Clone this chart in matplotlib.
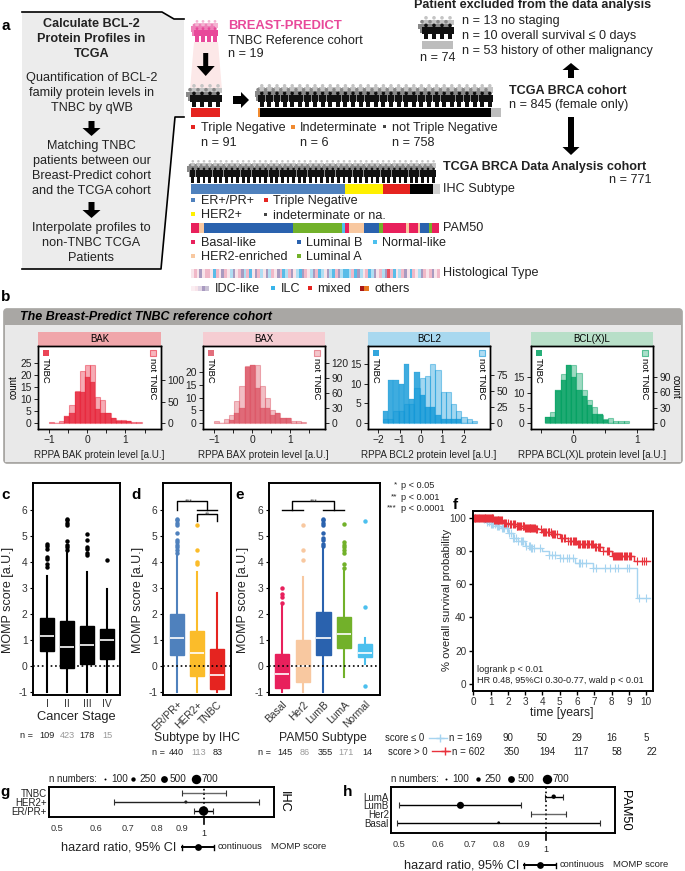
import numpy as np
import matplotlib
matplotlib.use("Agg")
import matplotlib.pyplot as plt
from matplotlib.colors import to_rgba
from matplotlib.patches import Rectangle, Polygon, FancyBboxPatch, Circle

plt.rcParams['font.family'] = ['Liberation Sans', 'DejaVu Sans']

W, H = 685, 871

# ---- data ----
# panel a, stacked bars (read off as bar lengths)
tcga_vals = [7, 803, 35]
tcga_cols = ['#f08a30', '#000000', '#bdbdbd']
ihc_vals = [350, 85, 62, 51, 17]
ihc_cols = ['#4f81bd', '#fff000', '#e52420', '#000000', '#d0d0d0']
pam_vals = [18, 11, 203, 110, 8, 7, 34, 36, 7, 53, 8, 19, 6, 20, 7, 15]
pam_codes = 'bhLAnbhLAbhbhLAb'
pam_map = {'b': '#e8205c', 'h': '#f8c8a0', 'L': '#2a62ae', 'A': '#72b12a', 'n': '#4cc0ee'}
hist_codes = [0, 1, 0, 2, 0, 1, 1, 0, 3, 1, 0, 2, 1, 0, 4, 2, 0, 1, 2, 4, 1, 3, 0, 2, 1, 4, 0, 2, 4, 1,
              0, 2, 1, 3, 4, 1, 2, 0, 4, 3, 2, 1, 0, 4, 2, 1, 3, 4, 0, 2, 4, 3, 1, 2, 4, 3, 3, 4, 1, 3,
              2, 4, 0, 1, 3, 4, 2, 0, 1, 4, 2, 5, 1, 3, 0, 4, 1, 2, 0, 3, 1, 0, 4, 2, 1, 0, 1, 2, 0, 1]
hist_cols = ['#f8e4ea', '#f0b8c8', '#a89ac0', '#58bce8', '#b0def2', '#e85060']

# panel b, histogram counts
bak_tnbc = [0, 0, 0, 3, 4, 13, 13, 19, 17, 6, 4, 4, 2, 1, 1, 1, 0, 0]
bak_not = [2, 0, 4, 14, 43, 74, 121, 137, 137, 60, 53, 23, 12, 8, 6, 4, 2, 2]
bax_tnbc = [0, 0, 0, 1, 4, 6, 22, 23, 14, 6, 6, 3, 4, 2, 2, 0, 0, 0]
bax_not = [3, 0, 7, 15, 43, 73, 113, 116, 116, 73, 50, 26, 20, 10, 10, 3, 4, 2]
bcl2_tnbc = [3, 11, 11, 10, 15, 6, 13, 7, 4, 4, 2, 1, 1, 1, 1, 0, 0, 0]
bcl2_not = [6, 6, 18, 19, 30, 30, 55, 71, 74, 92, 83, 48, 49, 29, 19, 9, 6, 3]
xl_tnbc = [2, 2, 11, 14, 19, 15, 11, 9, 6, 3, 3, 1, 0, 0, 0, 0]
xl_not = [12, 21, 62, 96, 113, 113, 97, 65, 44, 31, 16, 8, 10, 3, 4, 3]

# panels c-e, box stats: q1, median, q3, whisker low, whisker high
stage_names = ['I', 'II', 'III', 'IV']
stage_q1 = [0.57, -0.08, 0.08, 0.27]
stage_med = [1.15, 0.72, 0.80, 0.97]
stage_q3 = [1.83, 1.70, 1.52, 1.42]
stage_lo = [-1, -1, -1, -1]
stage_hi = [3.45, 4.40, 3.60, 2.95]
stage_fl = [[3.8, 3.9, 4.1, 4.2, 4.5, 4.6, 4.7],
            [4.45, 4.55, 4.65, 4.8, 5.4, 5.5, 5.6, 5.65],
            [4.25, 4.35, 4.5, 4.55, 4.85, 5.05],
            [4.05]]
stage_n = ['109', '423', '178', '15']

ihc_names = ['ER/PR+', 'HER2+', 'TNBC']
ihc_q1 = [0.40, -0.38, -0.90]
ihc_med = [1.05, 0.50, -0.35]
ihc_q3 = [1.97, 1.33, 0.63]
ihc_lo = [-1, -1, -1]
ihc_hi = [4.30, 3.60, 2.80]
ihc_fl = [[4.35, 4.45, 4.55, 4.65, 4.75, 4.85, 5.1, 5.4, 5.5, 5.6, 5.65],
          [3.9, 4.0, 4.45, 5.4],
          []]
ihc_colors = ['#4f81bd', '#fbbc2a', '#e52420']
ihc_n = ['440', '113', '83']

pam_names = ['Basal', 'Her2', 'LumB', 'LumA', 'Normal']
pam_q1 = [-0.85, -0.62, 0.40, 0.67, 0.33]
pam_med = [-0.33, -0.02, 1.08, 1.20, 0.50]
pam_q3 = [0.45, 0.98, 2.05, 1.88, 0.83]
pam_lo = [-1, -1, -1, -0.45, 0.05]
pam_hi = [2.30, 3.40, 4.55, 3.70, 1.05]
pam_fl = [[2.4, 2.65, 2.75, 3.0],
          [4.05, 4.45, 5.4],
          [4.6, 4.7, 4.85, 4.9, 5.1, 5.4, 5.5, 5.6, 5.65],
          [3.75, 3.9, 4.35, 4.45, 4.55, 4.65, 4.75, 5.45],
          [-0.8, 2.25, 5.55]]
pam_colors = ['#e8205c', '#f8c8a0', '#2a62ae', '#72b12a', '#4cc0ee']
pam_n = ['145', '86', '355', '171', '14']

# panel f, survival curves
low_t = [0, 0.5, 0.8, 1.0, 1.3, 1.6, 2.0, 2.3, 2.6, 3.0, 3.3, 4.0, 4.4, 5.0, 5.9, 6.9, 9.5, 10.2]
low_s = [100, 99, 97.5, 96, 95, 94, 91, 88, 86, 83, 82, 80, 77.5, 75.5, 73, 69.5, 52, 52]
high_t = [0, 0.7, 1.2, 1.7, 2.0, 2.5, 3.0, 3.6, 4.0, 4.5, 5.0, 5.5, 6.0, 7.0, 7.5, 8.0, 9.3, 10.2]
high_s = [100, 99.5, 98.5, 97, 96, 95, 94, 93, 91.5, 90, 88, 86, 84, 82.5, 80, 77, 74, 74]
low_cens = [0.3, 0.6, 0.75, 0.8, 0.9, 1.0, 1.08, 1.15, 1.25, 1.35, 1.45, 1.5, 1.65, 1.72, 1.8, 1.95, 2.05, 2.15,
            2.3, 2.38, 2.45, 2.6, 2.75, 2.82, 2.9, 3.05, 3.2, 3.28, 3.35, 3.42, 3.5, 3.85, 4.4, 4.55, 4.7, 5.0,
            5.2, 5.4, 5.55, 5.75, 6.1, 6.2, 6.3, 6.5, 6.95, 7.1, 7.6, 7.9, 8.2, 8.4, 8.9, 9.0, 9.6, 10.0]
high_cens = [0.03, 0.08, 0.12, 0.18, 0.22, 0.28, 0.33, 0.38, 0.43, 0.48, 0.55, 0.6, 0.65, 0.7, 0.75, 0.8, 0.85, 0.9,
             0.95, 1.0, 1.05, 1.1, 1.15, 1.2, 1.25, 1.3, 1.35, 1.4, 1.45, 1.5, 1.55, 1.6, 1.68, 1.75, 1.82, 1.9, 1.98,
             2.1, 2.2, 2.28, 2.35, 2.42, 2.5, 2.55, 2.6, 2.65, 2.7, 2.78, 2.85, 2.9, 2.95, 3.0, 3.05, 3.1, 3.15, 3.2,
             3.25, 3.3, 3.35, 3.4, 3.45, 3.5, 3.55, 3.62, 3.7, 3.9, 4.05, 4.1, 4.15, 4.22, 4.3, 4.35, 4.4, 4.48, 4.55,
             4.6, 4.65, 4.75, 4.85, 5.05, 5.15, 5.22, 5.3, 5.5, 5.6, 5.68, 5.75, 5.82, 5.9, 5.97, 6.05, 6.12, 6.2,
             6.3, 6.35, 6.4, 6.48, 6.55, 6.6, 6.65, 6.72, 6.8, 6.88, 6.95, 7.05, 7.12, 7.2, 7.3, 7.35, 7.5, 7.75,
             7.82, 7.85, 8.1, 8.15, 8.2, 8.25, 8.3, 8.38, 8.45, 8.5, 8.55, 8.62, 8.7, 8.78, 8.85, 8.92, 9.0, 9.05,
             9.1, 9.5, 9.75, 9.9, 10.0]
risk_low = ['n = 169', '90', '50', '29', '16', '5']
risk_high = ['n = 602', '350', '194', '117', '58', '22']

# panels g, h, hazard ratios
g_names = ['TNBC', 'HER2+', 'ER/PR+']
g_hr = [1.0, 0.918, 0.998]
g_lo = [0.90, 0.653, 0.953]
g_hi = [1.11, 1.296, 1.044]
g_size = [1, 5, 46]
g_col = ['#666666', '#222222', '#000000']
h_names = ['LumA', 'LumB', 'Her2', 'Basal']
h_hr = [1.037, 0.668, 1.0, 0.80]
h_lo = [0.995, 0.50, 0.93, 0.495]
h_hi = [1.086, 0.89, 1.097, 1.29]
h_size = [10, 26, 1, 4]
h_col = ['#000000', '#000000', '#666666', '#000000']
n_key = ['100', '250', '500', '700']
n_key_size = [2, 10, 24, 46]

fig = plt.figure(figsize=(W / 100, H / 100), dpi=100)

# full-figure canvas in pixel coordinates for the schematic parts
cv = fig.add_axes([0, 0, 1, 1], zorder=-1)
cv.set_xlim(0, W)
cv.set_ylim(H, 0)
cv.axis('off')


def box(x0, y0, x1, y1):
    return fig.add_axes([x0 / W, 1 - y1 / H, (x1 - x0) / W, (y1 - y0) / H])


def txt(x, y, s, size=9.1, **kw):
    kw.setdefault('va', 'center')
    kw.setdefault('color', '#222222')
    return cv.text(x, y, s, fontsize=size, **kw)


def square(x, y, col, s=3.5):
    cv.add_patch(Rectangle((x - s / 2, y - s / 2), s, s, fc=col, ec='none'))


def arrow(x, y0, y1, w=3.5, hw=9, hl=9):
    # vertical block arrow from y0 to y1
    d = 1 if y1 > y0 else -1
    cv.add_patch(Polygon([(x - w, y0), (x + w, y0), (x + w, y1 - d * hl), (x + hw, y1 - d * hl), (x, y1),
                          (x - hw, y1 - d * hl), (x - w, y1 - d * hl)], fc='k', ec='none'))


def stacked(x0, x1, y0, y1, values, colors):
    scale = (x1 - x0) / sum(values)
    left = x0
    for v, c in zip(values, colors):
        cv.add_patch(Rectangle((left, y0), v * scale, y1 - y0, fc=c, ec='none'))
        left += v * scale


def people(x0, x1, y0, y1, step, front='#111111', mid='#888888', back='#c4c4c4'):
    h = y1 - y0
    for row, col, off, top, bot in [(0, back, 0.5, y0, y0 + 0.55 * h),
                                    (1, mid, 0.0, y0 + 0.17 * h, y0 + 0.75 * h),
                                    (2, front, 0.5, y0 + 0.33 * h, y1)]:
        n = int((x1 - x0) / step)
        for i in range(n):
            cx = x0 + (i + off) * step
            r = min(step * 0.23, 1.8)
            hh = bot - top
            cv.add_patch(Circle((cx, top + r), r, fc=col, ec='none'))
            cv.add_patch(Rectangle((cx - step * 0.46, top + 2 * r), step * 0.92, hh * 0.42, fc=col, ec='none'))
            cv.add_patch(Rectangle((cx - step * 0.26, top + 2 * r), step * 0.52, hh - 2 * r, fc=col, ec='none'))


# ---- panel a ----
cv.add_patch(Polygon([(22, 12), (162, 12), (174, 19), (184, 19), (184, 117), (175, 117), (161, 269), (22, 269)],
                     fc='#ececec', ec='none'))
cv.plot([22, 162, 174, 184], [12, 12, 19, 19], color='k', lw=1.2)
cv.plot([184, 175, 161, 22], [117, 117, 269, 269], color='k', lw=1.2)

for y, s in zip([23.7, 39, 54], ['Calculate BCL-2', 'Protein Profiles in', 'TCGA']):
    txt(91.5, y, s, ha='center', weight='bold')
for y, s in zip([77.5, 92.7, 108], ['Quantification of BCL-2', 'family protein levels in', 'TNBC by qWB']):
    txt(91.5, y, s, ha='center')
arrow(91.5, 121, 136, w=3, hw=9, hl=8)
for y, s in zip([146, 161, 176, 191], ['Matching TNBC', 'patients between our', 'Breast-Predict cohort', 'and the TCGA cohort']):
    txt(91.5, y, s, ha='center')
arrow(91.5, 202, 218, w=3, hw=9, hl=8)
for y, s in zip([228, 243, 258], ['Interpolate profiles to', 'non-TNBC TCGA', 'Patients']):
    txt(91.5, y, s, ha='center')

cv.add_patch(Polygon([(194, 42), (218, 42), (222, 90), (190, 90)], fc='#fce8e8', ec='none'))
people(194, 218, 20, 42, 6, front='#e8499a', mid='#ee82b8', back='#f4b4d2')
txt(228, 25.7, 'BREAST-PREDICT', size=9.4, color='#e8499a', weight='bold')
txt(228, 41, 'TNBC Reference cohort')
txt(228, 54, 'n = 19')
arrow(205.7, 53, 76, w=2.5, hw=9, hl=10)

people(190, 222, 84, 107, 8)
stacked(191, 220, 108, 117, [91], ['#e52420'])
cv.add_patch(Polygon([(233, 96), (241, 96), (241, 92), (249, 100), (241, 108), (241, 104), (233, 104)], fc='k', ec='none'))
people(258, 501, 84, 107, 7.6)
stacked(258, 501, 108, 117, tcga_vals, tcga_cols)
txt(509, 90.7, 'TCGA BRCA cohort', weight='bold')
txt(509, 105, 'n = 845 (female only)')

square(193, 127, '#e52420', 4)
txt(201, 128, 'Triple Negative')
txt(201, 143, 'n = 91')
square(293, 127, '#f08a30', 4)
txt(300, 128, 'Indeterminate')
txt(300, 143, 'n = 6')
square(385, 127, '#444444', 3)
txt(392, 128, 'not Triple Negative')
txt(392, 143, 'n = 758')

txt(414, 5, 'Patient excluded from the data analysis', weight='bold')
people(422, 454, 16, 39, 8)
stacked(422, 453, 41, 49, [74], ['#bdbdbd'])
txt(420, 58, 'n = 74')
txt(462, 21, 'n = 13 no staging')
txt(462, 36, 'n = 10 overall survival ≤ 0 days')
txt(462, 51, 'n = 53 history of other malignancy')
arrow(571, 78, 63, w=3, hw=8.5, hl=7)
arrow(571, 117, 155, w=3, hw=8.5, hl=8)

people(190, 440, 160, 183, 5.6)
txt(443, 167, 'TCGA BRCA Data Analysis cohort', weight='bold')
txt(652, 180, 'n = 771', ha='right')
stacked(191, 440, 184, 194, ihc_vals, ihc_cols)
txt(443, 189, 'IHC Subtype')
square(193, 200, '#4f81bd', 4)
txt(201, 201, 'ER+/PR+')
square(266, 200, '#e52420', 4)
txt(273, 201, 'Triple Negative')
square(193, 214, '#fff000', 4)
txt(201, 215, 'HER2+')
square(266, 214, '#444444', 3)
txt(273, 216, 'indeterminate or na.')

stacked(191, 439, 223, 233, pam_vals, [pam_map[c] for c in pam_codes])
txt(443, 228, 'PAM50')
square(193, 242, pam_map['b'], 4)
txt(201, 243, 'Basal-like')
square(299, 242, pam_map['L'], 4)
txt(306, 243, 'Luminal B')
square(375, 242, pam_map['n'], 4)
txt(382, 243, 'Normal-like')
square(193, 256, pam_map['h'], 4)
txt(201, 257, 'HER2-enriched')
square(299, 256, pam_map['A'], 4)
txt(306, 257, 'Luminal A')

stacked(191, 440, 269, 278, [1] * len(hist_codes), [hist_cols[c] for c in hist_codes])
txt(443, 273, 'Histological Type')
stacked(191, 209, 286, 291, [1, 1, 1, 1, 1], ['#fbeef2', '#f8e4ea', '#e0d4e4', '#a89ac0', '#c8c0d4'])
txt(214.5, 289, 'IDC-like')
square(273, 288, '#38b4ea', 4)
txt(281, 289, 'ILC')
square(310, 288, '#e52420', 4)
txt(317, 289, 'mixed')
stacked(360, 369, 286, 291, [1, 1], ['#a81818', '#e87820'])
txt(375, 289, 'others')

for x, y, s in [(1, 26, 'a'), (1, 297, 'b'), (1, 495, 'c'), (131, 495, 'd'), (235, 495, 'e'), (453, 505, 'f'),
                (0, 792, 'g'), (343, 792, 'h')]:
    txt(x, y, s, size=11, weight='bold', color='k')

# ---- panel b ----
cv.add_patch(FancyBboxPatch((5, 310), 676, 152, boxstyle='round,pad=1.5,rounding_size=4', fc='#a9a7a4', ec='#a9a7a4', lw=0.5))
cv.add_patch(Rectangle((5, 324.5), 676, 137, fc='#e9e9e9', ec='none'))
txt(20, 316.5, 'The Breast-Predict TNBC reference cohort', size=9, weight='bold', style='italic', color='k')


def hist_panel(x0, x1, strip, name, start, width, tn, nt, xlim, sl, sr, lt, rt, xt, xtl, base, col):
    y0, y1 = 345.7, 429
    cv.add_patch(Rectangle((x0, 332), x1 - x0, y0 - 332, fc=strip, ec='none'))
    txt((x0 + x1) / 2, 339, name, size=6.9, color='k', ha='center')
    ax = box(x0, y0, x1, y1)
    edges = start + width * np.arange(len(tn))
    ax.bar(edges, tn, width=width, align='edge', fc=to_rgba(col, 0.8), ec=to_rgba(col, 0.5), lw=0.3)
    ax.set_xlim(*xlim)
    ax.set_ylim(-(y1 - base) / sl, (base - y0) / sl)
    ax.set_yticks(lt)
    ax.set_xticks(xt)
    ax.set_xticklabels(xtl)
    ax2 = ax.twinx()
    ax2.bar(edges, nt, width=width, align='edge', fc=to_rgba(col, 0.38), ec=to_rgba(col, 0.45), lw=0.8)
    ax2.set_ylim(-(y1 - base) / sr, (base - y0) / sr)
    ax2.set_yticks(rt)
    for a in (ax, ax2):
        a.tick_params(labelsize=7.4, length=3, width=0.7, pad=1.5, colors='#222222')
        for sp in a.spines.values():
            sp.set_linewidth(1)
    w = x1 - x0
    h = y1 - y0
    ax2.scatter([7.7 / w], [1 - 7 / h], transform=ax2.transAxes, marker='s', s=16, color=col, alpha=0.85, lw=0)
    ax2.scatter([1 - 8 / w], [1 - 7 / h], transform=ax2.transAxes, marker='s', s=13, fc=col + '55', ec=col + '99', lw=0.8)
    ax2.text(7.7 / w, 1 - 12 / h, 'TNBC', transform=ax2.transAxes, rotation=270, fontsize=6.8, ha='center', va='top')
    ax2.text(1 - 8 / w, 1 - 12 / h, 'not TNBC', transform=ax2.transAxes, rotation=270, fontsize=6.8, ha='center', va='top')
    return ax, ax2


half = [-1, -0.5, 0, 0.5, 1, 1.5]
half_l = ['\u22121', '', '0', '', '1', '']
a1, _ = hist_panel(38, 161, '#f0a6aa', 'BAK', -1.008, 0.135, bak_tnbc, bak_not, (-1.29, 1.93), 2.41, 0.427,
                   [0, 5, 10, 15, 20, 25], [0, 50, 100], half, half_l, 423, '#e8243a')
a1.set_ylabel('count', fontsize=7, labelpad=1)
hist_panel(203, 325, '#f5cdd2', 'BAX', -1.008, 0.135, bax_tnbc, bax_not, (-1.29, 1.92), 2.53, 0.503,
           [0, 5, 10, 15, 20], [0, 30, 60, 90, 120], half, half_l, 423, '#dd5565')
hist_panel(368, 490, '#a8d8ef', 'BCL2', -1.78, 0.245, bcl2_tnbc, bcl2_not, (-2.48, 3.23), 3.93, 0.64,
           [0, 5, 10, 15], [0, 25, 50, 75], [-2, -1, 0, 1, 2], ['\u22122', '\u22121', '0', '1', '2'], 423, '#0f97d8')
_, a4 = hist_panel(531, 653, '#b8dfc8', 'BCL(X)L', -0.443, 0.082, xl_tnbc, xl_not, (-0.66, 1.245), 3.04, 0.515,
                   [0, 5, 10, 15], [0, 30, 60, 90], [-0.5, 0, 0.5, 1], ['', '0', '', '1'], 423, '#00a060')
a4.set_ylabel('count', fontsize=7, rotation=270, labelpad=7)
for cx, s in [(99, 'BAK'), (263, 'BAX'), (429, 'BCL2'), (592, 'BCL(X)L')]:
    txt(cx, 455, 'RPPA %s protein level [a.U.]' % s, size=7.1, ha='center')


# ---- panels c, d, e ----
def box_panel(x0, x1, xlim, names, q1, med, q3, lo, hi, fl, colors, rot, ylab_x):
    ax = box(x0, 483, x1, 695)
    stats = [dict(q1=a, med=b, q3=c, whislo=d, whishi=e, fliers=f, label=n)
             for a, b, c, d, e, f, n in zip(q1, med, q3, lo, hi, fl, names)]
    pos = np.arange(1, len(names) + 1)
    bp = ax.bxp(stats, positions=pos, widths=0.68, patch_artist=True, showcaps=False,
                medianprops=dict(color='white', lw=1.2),
                flierprops=dict(marker='o', ms=3.2, mew=0))
    for i, c in enumerate(colors):
        bp['boxes'][i].set(facecolor=c, edgecolor=c)
        bp['whiskers'][2 * i].set(color=c, lw=1.5)
        bp['whiskers'][2 * i + 1].set(color=c, lw=1.5)
        bp['fliers'][i].set(markerfacecolor=c, markeredgecolor=c)
    ax.axhline(0, color='k', ls=':', lw=1.2, zorder=5)
    ax.set_xlim(*xlim)
    ax.set_ylim(-1.13, 7.03)
    ax.set_yticks(range(-1, 7))
    ax.set_yticklabels(['-1', '0', '1', '2', '3', '4', '5', '6'])
    ax.tick_params(axis='y', labelsize=7.4, length=2.5, width=0.8, pad=1.5, labelcolor='#333333')
    ax.tick_params(axis='x', length=0, labelsize=7.4, labelcolor='#333333', pad=3)
    if rot:
        plt.setp(ax.get_xticklabels(), rotation=45, ha='right', rotation_mode='anchor')
    for sp in ax.spines.values():
        sp.set_linewidth(1.4)
    txt(ylab_x, 600, 'MOMP score [a.U.]', size=9, rotation=90, ha='center')
    return ax


box_panel(33, 120, (0.3, 4.65), stage_names, stage_q1, stage_med, stage_q3, stage_lo, stage_hi, stage_fl,
          ['#000000'] * 4, False, 8)
ax_d = box_panel(163, 231, (0.3, 3.7), ihc_names, ihc_q1, ihc_med, ihc_q3, ihc_lo, ihc_hi, ihc_fl,
                 ihc_colors, True, 138)
ax_e = box_panel(269, 380, (0.37, 5.73), pam_names, pam_q1, pam_med, pam_q3, pam_lo, pam_hi, pam_fl,
                 pam_colors, True, 243)

ax_d.plot([1, 1, 2.5, 2.5], [6, 6.32, 6.32, 6], color='k', lw=1)
ax_d.plot([2, 3], [6, 6], color='k', lw=1)
ax_d.plot([2, 2, 3, 3], [5.57, 5.83, 5.83, 5.57], color='k', lw=1)
ax_d.text(1.6, 6.3, '***', fontsize=5, ha='center', va='center', color='#444444')
ax_d.text(2.55, 5.8, '**', fontsize=5, ha='center', va='center', color='#444444')
ax_e.plot([1, 2], [6, 6], color='k', lw=1)
ax_e.plot([1.5, 1.5, 3.5, 3.5], [6, 6.32, 6.32, 6], color='k', lw=1)
ax_e.plot([3, 4], [6, 6], color='k', lw=1)
ax_e.text(2.55, 6.3, '***', fontsize=5, ha='center', va='center', color='#444444')

txt(76, 716.5, 'Cancer Stage', size=9.3, ha='center')
txt(197, 738, 'Subtype by IHC', size=8.8, ha='center')
txt(323, 738, 'PAM50 Subtype', size=8.8, ha='center')

txt(20, 735, 'n =', size=6.6)
for i, (x, s) in enumerate(zip([47, 67, 87, 107], stage_n)):
    txt(x, 735, s, size=6.6, ha='center', color='#999999' if i in (1, 3) else '#222222')
txt(152, 752, 'n =', size=6.6)
for i, (x, s) in enumerate(zip([176, 199, 218], ihc_n)):
    txt(x, 752, s, size=6.6, ha='center', color='#999999' if i == 1 else '#222222')
txt(258, 752, 'n =', size=6.6)
for i, (x, s) in enumerate(zip([285, 305, 325, 346, 367], pam_n)):
    txt(x, 752, s, size=6.6, ha='center', color='#999999' if i in (1, 3) else '#222222')

for y, st, s in [(485, '*', 'p < 0.05'), (497, '**', 'p < 0.001'), (508, '***', 'p < 0.0001')]:
    txt(397, y, st, size=6, ha='right')
    txt(400.7, y, s, size=6.6)

# ---- panel f ----
ax_f = box(472.7, 511, 653, 690.7)
low_col = '#a6d4f0'
high_col = '#e8323c'
for t, s, cens, c in [(low_t, low_s, low_cens, low_col), (high_t, high_s, high_cens, high_col)]:
    ax_f.step(t, s, where='post', color=c, lw=1)
    idx = np.searchsorted(t, cens, side='right') - 1
    ax_f.plot(cens, np.array(s)[idx], ls='', marker='+', ms=6, mew=0.8, color=c)
ax_f.set_xlim(-0.04, 10.4)
ax_f.set_ylim(-4, 104)
ax_f.set_xticks(range(0, 11))
ax_f.set_yticks(range(0, 101, 20))
ax_f.tick_params(labelsize=7.2, length=3, width=1, pad=1.5, labelcolor='#333333')
for sp in ax_f.spines.values():
    sp.set_linewidth(1.4)
txt(447, 600, '% overall survival probability', size=8.1, rotation=90, ha='center')
txt(562, 712.7, 'time [years]', size=8.8, ha='center')
ax_f.text(0.2, 8.5, 'logrank p < 0.01', fontsize=6.6, color='#222222', va='center')
ax_f.text(0.2, 2, 'HR 0.48, 95%CI 0.30-0.77, wald p < 0.01', fontsize=6.6, color='#222222', va='center')

txt(385, 738, 'score ≤ 0', size=6.9)
cv.plot([429, 447], [738, 738], color=low_col, lw=1)
cv.plot([440], [738], marker='+', ms=6, color=low_col)
txt(388, 752, 'score > 0', size=6.9)
cv.plot([432, 450], [751, 751], color=high_col, lw=1)
cv.plot([445], [751], marker='+', ms=6, color=high_col)
for x, s in zip([449, 507.7, 542, 577, 612, 646], risk_low):
    txt(x, 738, s, size=7, ha='left' if s.startswith('n') else 'center')
for x, s in zip([452, 512, 547, 581, 617, 652], risk_high):
    txt(x, 752, s, size=7, ha='left' if s.startswith('n') else 'center')


# ---- panels g, h ----
def forest(x0, x1, y0, y1, one_x, names, hr, lo, hi, size, cols, title, ylim, side_x, key_x, key_y):
    ax = box(x0, y0, x1, y1)
    scale = 212
    ax.set_xscale('log')
    ax.set_xlim(np.exp((x0 - one_x) / scale), np.exp((x1 - one_x) / scale))
    ax.set_ylim(*ylim)
    ys = np.arange(len(names), 0, -1)
    ax.hlines(ys, lo, hi, color=cols, lw=1)
    ax.plot(lo, ys, ls='', marker='|', ms=4, color='#333333', mew=0.8)
    ax.plot(hi, ys, ls='', marker='|', ms=4, color='#333333', mew=0.8)
    ax.scatter(hr, ys, s=size, color=cols, zorder=3, lw=0)
    ax.axvline(1, color='k', ls=':', lw=1.2)
    ax.set_yticks(ys)
    ax.set_yticklabels(names)
    ax.set_xticks([0.5, 0.6, 0.7, 0.8, 0.9, 1])
    ax.set_xticklabels(['0.5', '0.6', '0.7', '0.8', '0.9', ''])
    ax.minorticks_off()
    ax.tick_params(axis='y', length=0, labelsize=7, pad=1.5, labelcolor='#222222')
    ax.tick_params(axis='x', length=0, labelsize=6.6, pad=5, labelcolor='#333333')
    for sp in ax.spines.values():
        sp.set_linewidth(1.4)
    cv.plot([one_x, one_x], [y1, y1 + 7], color='k', lw=1.2)
    txt(one_x, y1 + 16, '1', size=6.6, ha='center')
    txt(side_x, (y0 + y1) / 2, title, size=9.2, rotation=270, ha='center', color='k')
    # size key above the box
    txt(x0, 779, 'n numbers:', size=6.9)
    for dx, s, lab in zip(key_x, n_key_size, n_key):
        cv.scatter([dx], [779], s=s, color='k', lw=0)
        txt(dx + 6, 779, lab, size=7.2)
    # line key below the box
    txt(x0 + 12 if title == 'IHC' else 404, key_y, 'hazard ratio, 95% CI', size=9.1, ha='left')
    kx = 182 if title == 'IHC' else 524
    cv.plot([kx, kx + 32], [key_y, key_y], color='k', lw=1.4)
    cv.plot([kx, kx], [key_y - 2.5, key_y + 2.5], color='k', lw=1)
    cv.plot([kx + 32, kx + 32], [key_y - 2.5, key_y + 2.5], color='k', lw=1)
    cv.scatter([kx + 16], [key_y], s=24, color='k', lw=0)
    txt(kx + 36, key_y - 1, 'continuous', size=6.7)
    txt(kx + 89, key_y - 1, 'MOMP score', size=6.8)


forest(49, 274, 787, 817, 204, g_names, g_hr, g_lo, g_hi, g_size, g_col, 'IHC', (0.33, 3.67), 284,
       [105, 133.5, 164, 196], 847)
forest(391, 615, 787, 833, 546, h_names, h_hr, h_lo, h_hi, h_size, h_col, 'PAM50', (-0.18, 5.11), 625.5,
       [446, 478, 511.5, 546.7], 865)

fig.savefig('out.png', dpi=100)
